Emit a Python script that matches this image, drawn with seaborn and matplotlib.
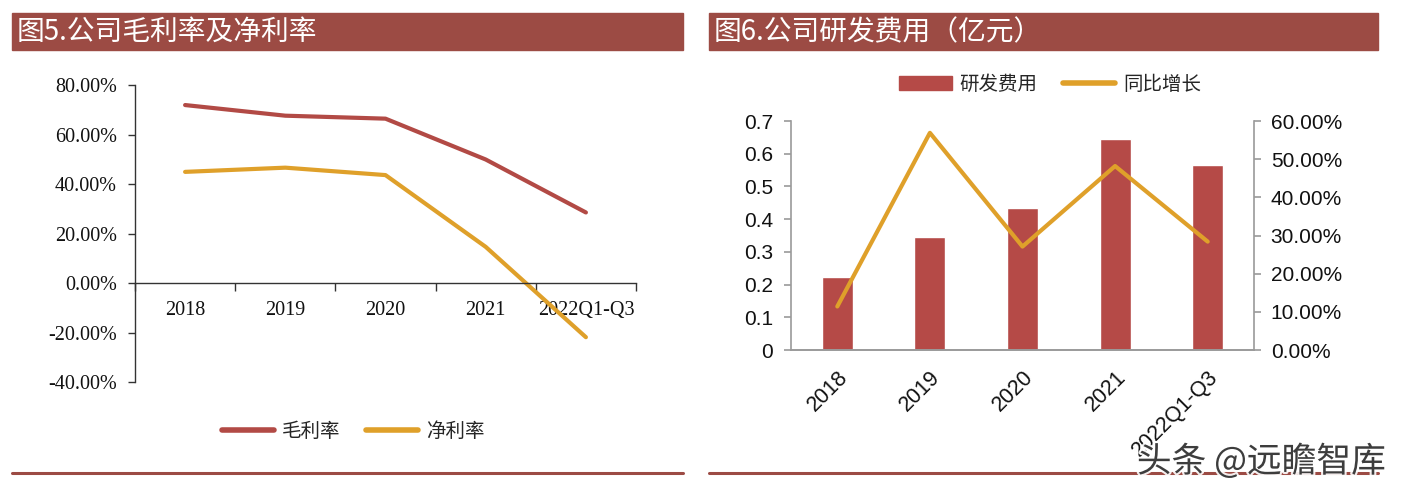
import matplotlib
matplotlib.use("Agg")
import matplotlib.pyplot as plt
import matplotlib.patheffects as pe
from matplotlib.patches import Rectangle
from matplotlib.lines import Line2D
from matplotlib.ticker import FuncFormatter, FixedLocator
import pandas as pd
import seaborn as sns

# ── Datos ────────────────────────────────────────────────────────────────────
periods = ["2018", "2019", "2020", "2021", "2022Q1-Q3"]
gross_margin = [71.9, 67.6, 66.4, 49.9, 28.5]      # 毛利率 (%)
net_margin = [44.9, 46.6, 43.6, 14.6, -21.9]       # 净利率 (%)
rd_expense = [0.224, 0.344, 0.434, 0.644, 0.565]   # 研发费用 (亿元)
rd_growth = [11.4, 56.9, 27.1, 48.2, 28.4]         # 同比增长 (%)

TITLE_L = "图5.公司毛利率及净利率"
TITLE_R = "图6.公司研发费用（亿元）"

RED = "#B24A45"
GOLD = "#DFA02A"
BAR_RED = "#B54A47"
BANNER = "#9C4B44"
CJK = ["Noto Sans CJK SC", "DejaVu Sans"]

sns.set_theme(style="white")
plt.rcParams["font.family"] = CJK

fig = plt.figure(figsize=(14.02, 4.94), dpi=100)

# ── Banners y líneas inferiores ─────────────────────────────────────────────
for x0, w, title in [(12, 671, TITLE_L), (709, 669, TITLE_R)]:
    fig.patches.append(Rectangle((x0 / 1402, 1 - 50 / 494), w / 1402, 37 / 494,
                                 transform=fig.transFigure, color=BANNER, zorder=0))
    fig.text((x0 + 5) / 1402, 1 - 32 / 494, title, color="white", fontsize=20,
             va="center", ha="left", family=CJK)
    fig.add_artist(Line2D([x0 / 1402, (x0 + w) / 1402], [1 - 473 / 494] * 2,
                          transform=fig.transFigure, color=BANNER, lw=2.2))

# ── Figura 5: márgenes ───────────────────────────────────────────────────────
df_m = pd.DataFrame({
    "period": periods * 2,
    "value": gross_margin + net_margin,
    "serie": ["毛利率"] * len(periods) + ["净利率"] * len(periods),
})
ax1 = fig.add_axes([135 / 1402, 1 - 382 / 494, 501 / 1402, 297 / 494])
sns.lineplot(data=df_m, x="period", y="value", hue="serie", sort=False,
             palette={"毛利率": RED, "净利率": GOLD}, linewidth=3, ax=ax1, legend=False)
ax1.set_xlim(-0.5, len(periods) - 0.5)
ax1.set_ylim(-40, 80)
ax1.set_yticks(range(-40, 81, 20))
ax1.yaxis.set_major_formatter(FuncFormatter(lambda v, p: f"{v:.2f}%"))
ax1.spines[["top", "right"]].set_visible(False)
ax1.spines["bottom"].set_position(("data", 0))
for s in ["left", "bottom"]:
    ax1.spines[s].set_color("#333333")
    ax1.spines[s].set_linewidth(1.0)
ax1.set_xticks(range(len(periods)))
ax1.set_xticklabels(periods)
ax1.xaxis.set_minor_locator(FixedLocator([i + 0.5 for i in range(-1, len(periods))]))
ax1.tick_params(axis="x", which="major", length=0, pad=13)
ax1.tick_params(axis="x", which="minor", bottom=True, length=6, direction="out",
                color="#333333", width=1)
ax1.tick_params(axis="y", left=True, length=5, direction="out", color="#333333",
                width=1, pad=8)
ax1.set_xlabel("")
ax1.set_ylabel("")
for lab in ax1.get_xticklabels() + ax1.get_yticklabels():
    lab.set_family("Liberation Serif")
    lab.set_fontsize(14.5)
    lab.set_color("#111111")

h1 = [Line2D([], [], color=RED, lw=4), Line2D([], [], color=GOLD, lw=4)]
fig.legend(h1, ["毛利率", "净利率"], loc="center", bbox_to_anchor=(353 / 1402, 1 - 431 / 494),
           ncol=2, frameon=False, handlelength=2.7, columnspacing=1.3,
           handletextpad=0.4, prop={"family": CJK, "size": 14})

# ── Figura 6: gasto en I+D ───────────────────────────────────────────────────
df_rd = pd.DataFrame({"period": periods, "expense": rd_expense, "growth": rd_growth})
ax2 = fig.add_axes([791 / 1402, 1 - 350 / 494, 463 / 1402, 229 / 494])
sns.barplot(data=df_rd, x="period", y="expense", color=BAR_RED, saturation=1,
            width=0.335, ax=ax2)
ax3 = ax2.twinx()
sns.lineplot(data=df_rd, x="period", y="growth", sort=False, color=GOLD,
             linewidth=3, ax=ax3)
ax2.set_xlim(-0.5, len(periods) - 0.5)
ax2.set_ylim(0, 0.7)
ax2.set_yticks([i / 10 for i in range(8)])
ax2.yaxis.set_major_formatter(FuncFormatter(lambda v, p: f"{v:.1f}".rstrip("0").rstrip(".") if v else "0"))
ax3.set_ylim(0, 60)
ax3.set_yticks(range(0, 61, 10))
ax3.yaxis.set_major_formatter(FuncFormatter(lambda v, p: f"{v:.2f}%"))
for a in (ax2, ax3):
    a.spines["top"].set_visible(False)
    for s in ["left", "right", "bottom"]:
        a.spines[s].set_color("#9A9A9A")
        a.spines[s].set_linewidth(1.2)
    a.set_xlabel("")
    a.set_ylabel("")
    a.grid(False)
ax2.spines["right"].set_visible(False)
ax3.spines["left"].set_visible(False)
ax2.tick_params(axis="y", left=True, length=5, direction="out", color="#9A9A9A",
                width=1.2, pad=8)
ax3.tick_params(axis="y", right=True, length=5, direction="out", color="#9A9A9A",
                width=1.2, pad=7)
ax2.tick_params(axis="x", length=0, pad=12)
ax2.set_xticks(range(len(periods)))
ax2.set_xticklabels(periods, rotation=45, ha="right", rotation_mode="anchor")
for lab in ax2.get_yticklabels() + ax3.get_yticklabels():
    lab.set_family("Liberation Sans")
    lab.set_fontsize(15)
    lab.set_color("#111111")
for lab in ax2.get_xticklabels():
    lab.set_family("Liberation Sans")
    lab.set_fontsize(15.5)
    lab.set_color("#111111")

h2 = [Rectangle((0, 0), 1, 1, color=BAR_RED), Line2D([], [], color=GOLD, lw=4)]
fig.legend(h2, ["研发费用", "同比增长"], loc="center", bbox_to_anchor=(1050 / 1402, 1 - 84 / 494),
           ncol=2, frameon=False, handlelength=2.7, handleheight=0.7, columnspacing=1.3,
           handletextpad=0.4, prop={"family": CJK, "size": 14})

# ── Marca de agua ────────────────────────────────────────────────────────────
fig.text(1386 / 1402, 1 - 462 / 494, "头条 @远瞻智库", ha="right", va="center",
         fontsize=25, color="#2A2A2A", family=CJK, alpha=0.9,
         path_effects=[pe.withStroke(linewidth=3, foreground="white")])

plt.savefig("out.png", dpi=100)
plt.close()
